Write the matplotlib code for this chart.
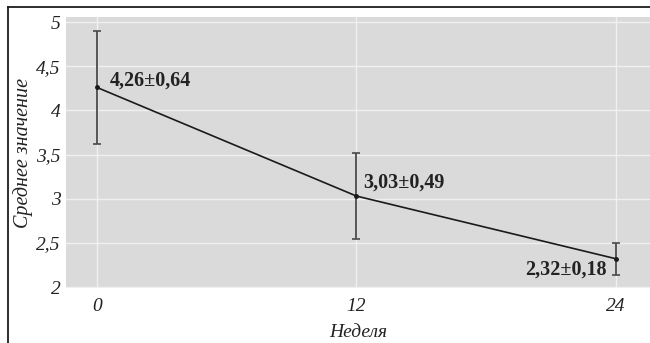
import matplotlib
matplotlib.use("Agg")
import matplotlib.pyplot as plt
from matplotlib.lines import Line2D

weeks = [0, 12, 24]
means = [4.26, 3.03, 2.32]
sds = [0.64, 0.49, 0.18]
x_ticks = [0, 12, 24]
x_tick_labels = ["0", "12", "24"]
y_ticks = [2, 2.5, 3, 3.5, 4, 4.5, 5]
y_tick_labels = ["2", "2,5", "3", "3,5", "4", "4,5", "5"]
value_labels = ["4,26±0,64", "3,03±0,49", "2,32±0,18"]
label_offsets = [(9.5, 5), (4.5, 10), (-6.5, -8)]
label_ha = ["left", "left", "right"]

serif = ["Liberation Serif", "DejaVu Serif"]
ink = "#222222"

fig = plt.figure(figsize=(6.5, 3.43), dpi=100)
ax = fig.add_axes([0.1015, 0.1603, 0.8985, 0.7901])
ax.set_facecolor("#dadada")

ax.set_xlim(-1.43, 25.57)
ax.set_ylim(1.989, 5.057)
ax.set_xticks(x_ticks)
ax.set_xticklabels(x_tick_labels)
ax.set_yticks(y_ticks)
ax.set_yticklabels(y_tick_labels)
ax.grid(True, color="#f0f0f0", linewidth=1.0)
ax.set_axisbelow(True)
for s in ax.spines.values():
    s.set_visible(False)
ax.tick_params(axis="y", length=0, pad=4)
ax.tick_params(axis="x", length=0, pad=7)
for lab in ax.get_xticklabels() + ax.get_yticklabels():
    lab.set_fontfamily(serif)
    lab.set_fontstyle("italic")
    lab.set_fontsize(14)
    lab.set_color(ink)

ax.errorbar(weeks, means, yerr=sds, color="#1a1a1a", linewidth=1.2,
            elinewidth=1.3, ecolor="#4a4a4a", capsize=3, capthick=1.2,
            marker="o", markersize=2.5)

for x, y, txt, off, ha in zip(weeks, means, value_labels, label_offsets, label_ha):
    ax.annotate(txt, (x, y), xytext=off, textcoords="offset points",
                ha=ha, va="center", fontfamily=serif, fontweight="bold",
                fontsize=14.5, color=ink)

ax.set_xlabel("Неделя", fontfamily=serif, fontstyle="italic",
              fontsize=14, color=ink, labelpad=6.5)
ax.set_ylabel("Среднее значение", fontfamily=serif, fontstyle="italic",
              fontsize=14.5, color=ink, labelpad=2.5)

# outer frame (top and left edges)
fig.add_artist(Line2D([7.5 / 650, 1.0], [1 - 6.5 / 343, 1 - 6.5 / 343],
                      transform=fig.transFigure, color="#1e1e1e", linewidth=1.3))
fig.add_artist(Line2D([7.5 / 650, 7.5 / 650], [0.0, 1 - 6.5 / 343],
                      transform=fig.transFigure, color="#1e1e1e", linewidth=1.3))

fig.savefig("out.png", dpi=100, facecolor="white")
